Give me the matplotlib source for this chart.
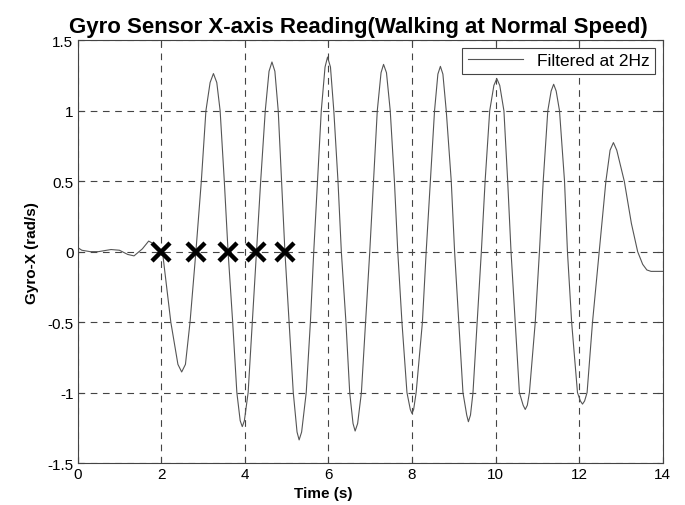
import matplotlib
matplotlib.use("Agg")
import matplotlib.pyplot as plt

plt.rcParams["font.family"] = ["Liberation Sans", "DejaVu Sans"]

# gyro trace (time s, rad/s)
t = [0.0, 0.1, 0.3, 0.5, 0.8, 1.0, 1.2, 1.35, 1.55, 1.7, 1.85,
     2.03, 2.23, 2.40, 2.49, 2.58, 2.69, 2.83, 2.96, 3.07, 3.17, 3.25, 3.33, 3.41, 3.51,
     3.60, 3.71, 3.81, 3.89, 3.94, 3.99, 4.08, 4.18, 4.28, 4.38, 4.49, 4.58, 4.65, 4.72,
     4.80, 4.88, 4.96, 5.06, 5.16, 5.25, 5.30, 5.36, 5.47, 5.57, 5.65, 5.74, 5.83, 5.92,
     5.98, 6.05, 6.13, 6.23, 6.31, 6.42, 6.51, 6.59, 6.64, 6.70, 6.79, 6.89, 6.99, 7.08,
     7.17, 7.26, 7.32, 7.39, 7.48, 7.58, 7.66, 7.76, 7.88, 7.96, 8.00, 8.04, 8.10, 8.25,
     8.34, 8.44, 8.54, 8.62, 8.68, 8.74, 8.82, 8.94, 9.02, 9.12, 9.22, 9.31, 9.35, 9.40,
     9.46, 9.56, 9.66, 9.75, 9.86, 9.96, 10.03, 10.10, 10.20, 10.29, 10.37, 10.47, 10.57,
     10.66, 10.71, 10.76, 10.81, 10.95, 11.05, 11.14, 11.25, 11.33, 11.39, 11.45, 11.53,
     11.65, 11.72, 11.82, 11.96, 12.03, 12.08, 12.13, 12.19, 12.32, 12.48, 12.64, 12.74,
     12.82, 12.90, 13.08, 13.25, 13.40, 13.52, 13.62, 13.72, 14.0]
gyro = [0.03, 0.01, 0.0, 0.0, 0.015, 0.01, -0.02, -0.03, 0.02, 0.075, 0.05,
        0.0, -0.5, -0.8, -0.854, -0.8, -0.5, 0.0, 0.5, 1.0, 1.2, 1.264, 1.2, 1.0, 0.5,
        0.0, -0.5, -1.0, -1.2, -1.242, -1.2, -1.0, -0.5, 0.0, 0.5, 1.0, 1.28, 1.346, 1.28,
        1.0, 0.5, 0.0, -0.5, -1.0, -1.28, -1.336, -1.28, -1.0, -0.5, 0.0, 0.5, 1.0, 1.31,
        1.381, 1.31, 1.0, 0.5, 0.0, -0.5, -1.0, -1.22, -1.273, -1.22, -1.0, -0.5, 0.0, 0.5,
        1.0, 1.27, 1.329, 1.27, 1.0, 0.5, 0.0, -0.5, -1.0, -1.12, -1.148, -1.12, -1.0, -0.5,
        0.0, 0.5, 1.0, 1.26, 1.315, 1.26, 1.0, 0.5, 0.0, -0.5, -1.0, -1.16, -1.207, -1.16,
        -1.0, -0.5, 0.0, 0.5, 1.0, 1.18, 1.228, 1.18, 1.0, 0.5, 0.0, -0.5, -1.0,
        -1.09, -1.12, -1.09, -1.0, -0.5, 0.0, 0.5, 1.0, 1.14, 1.188, 1.14, 1.0,
        0.5, 0.0, -0.5, -1.0, -1.06, -1.082, -1.06, -1.0, -0.5, 0.0, 0.5, 0.72,
        0.774, 0.72, 0.5, 0.2, 0.0, -0.09, -0.13, -0.14, -0.14]

# step markers on the zero line
step_t = [2.0, 2.84, 3.59, 4.27, 4.97]
step_y = [0, 0, 0, 0, 0]

fig = plt.figure(figsize=(6.85, 5.06), dpi=100)
ax = fig.add_axes([0.1133, 0.083, 0.8542, 0.8354])

ax.plot(t, gyro, color="#555555", lw=0.8, label="Filtered at 2Hz")
ax.plot(step_t, step_y, ls="none", marker="x", ms=13, mew=3.2, color="black")

ax.set_xlim(0, 14)
ax.set_ylim(-1.5, 1.5)
ax.set_xticks(range(0, 15, 2))
ax.set_yticks([-1.5, -1, -0.5, 0, 0.5, 1, 1.5])
ax.set_yticklabels(["-1.5", "-1", "-0.5", "0", "0.5", "1", "1.5"])
ax.tick_params(direction="in", top=True, right=True, labelsize=11, length=4,
               color="#444444", pad=3)
ax.grid(True, ls=(0, (6, 5)), color="#444444", lw=0.8)
for s in ax.spines.values():
    s.set_color("#444444")

ax.set_title("Gyro Sensor X-axis Reading(Walking at Normal Speed)",
             fontsize=16, fontweight="bold", pad=6, x=0.48)
ax.set_xlabel("Time (s)", fontsize=11, fontweight="bold", labelpad=1)
ax.xaxis.set_label_coords(0.42, -0.055)
ax.set_ylabel("Gyro-X (rad/s)", fontsize=11, fontweight="bold", labelpad=6)

leg = ax.legend(loc="upper right", fontsize=12.5, fancybox=False, framealpha=1,
                edgecolor="#444444", handlelength=3.2, borderpad=0.3,
                borderaxespad=0.45)
leg.get_frame().set_linewidth(0.8)

fig.savefig("out.png", dpi=100)
